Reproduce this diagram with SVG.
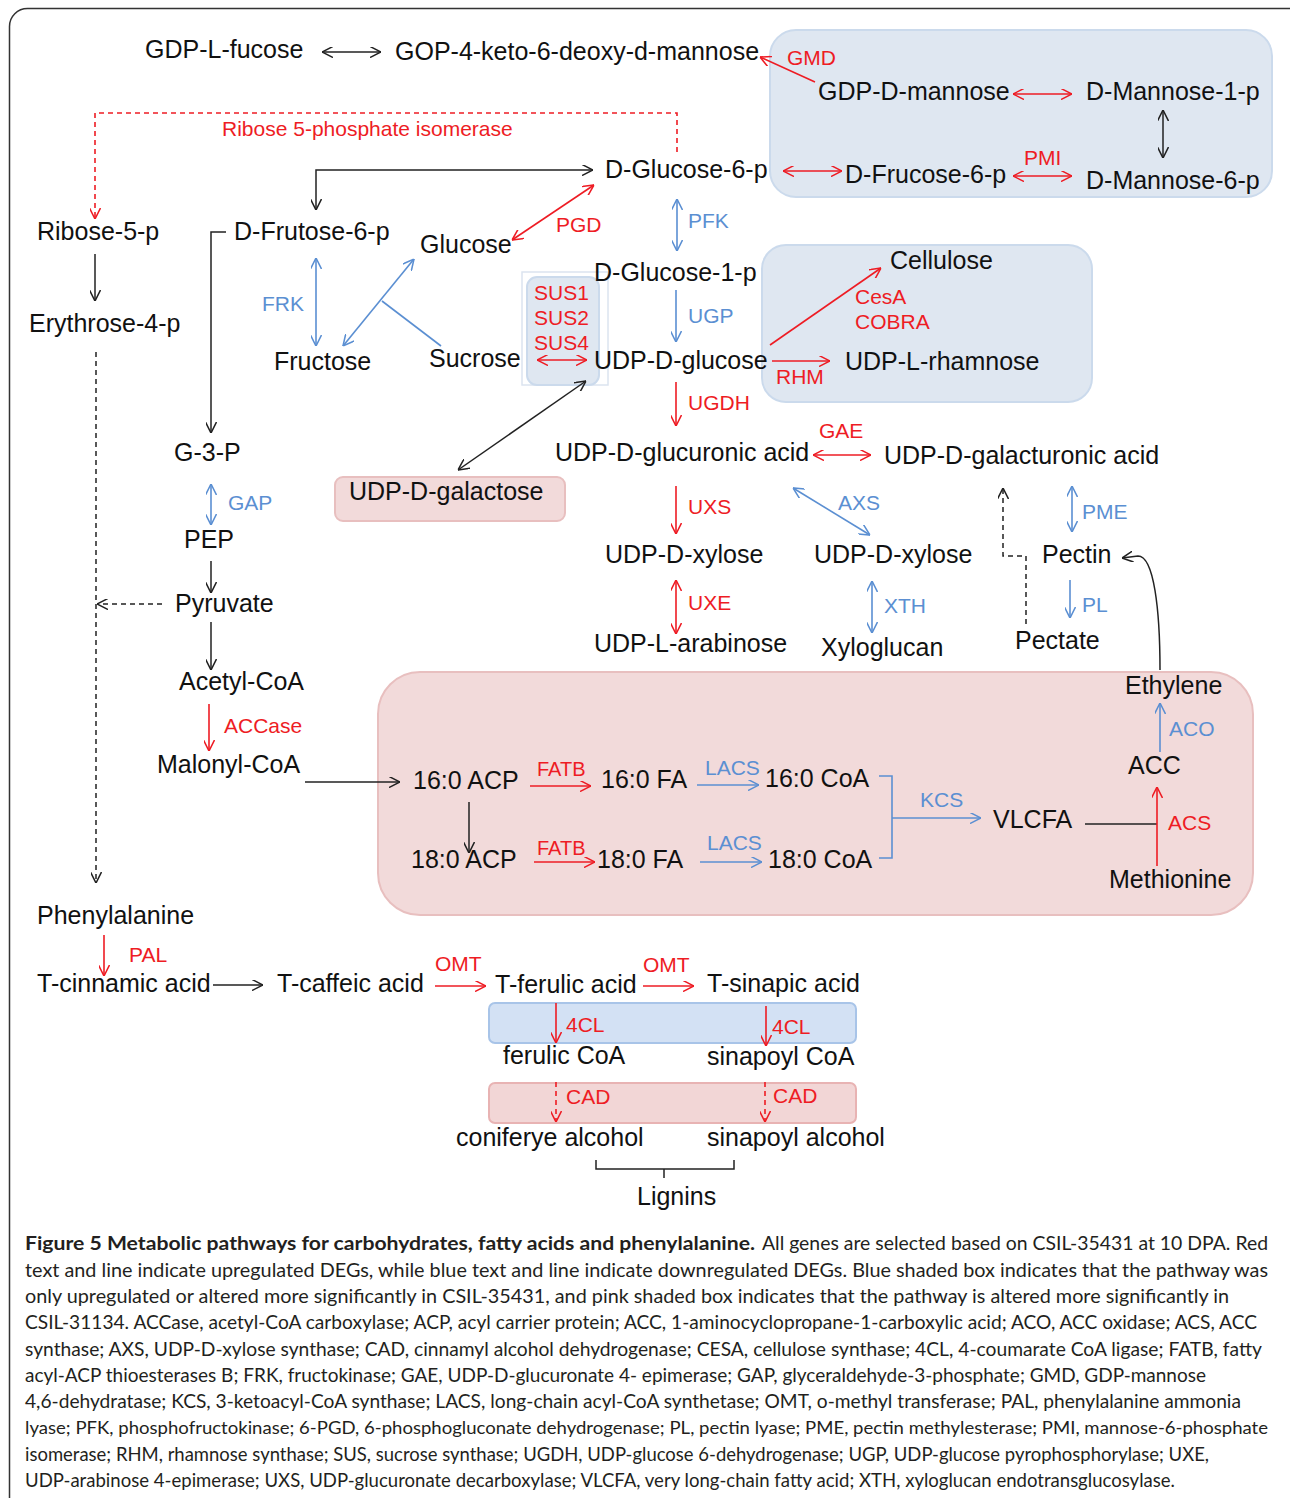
<svg xmlns="http://www.w3.org/2000/svg" width="1290" height="1498" viewBox="0 0 1290 1498">
<style>
.n{font-family:"Liberation Sans",Arial,sans-serif;font-size:25px;fill:#111}
.r{font-family:"Liberation Sans",Arial,sans-serif;font-size:21px;fill:#ee1c24}
.b{font-family:"Liberation Sans",Arial,sans-serif;font-size:21px;fill:#5b8fd2}
.lk{stroke:#222;stroke-width:1.5;fill:none}
.lr{stroke:#ee1c24;stroke-width:1.6;fill:none}
.lb{stroke:#5b8fd2;stroke-width:1.6;fill:none}
.dash{stroke-dasharray:5 4}
.ak{marker-end:url(#mk)}
.akk{marker-start:url(#mk);marker-end:url(#mk)}
.ar{marker-end:url(#mr)}
.arr{marker-start:url(#mr);marker-end:url(#mr)}
.ab{marker-end:url(#mb)}
.abb{marker-start:url(#mb);marker-end:url(#mb)}
.cap{font-family:Lato,"Open Sans",sans-serif;font-size:19px;fill:#231f20}
.capb{font-family:Lato,"Open Sans",sans-serif;font-size:19px;font-weight:bold;fill:#231f20}
.bbox{fill:#dfe7f1;stroke:#cbdaec;stroke-width:2}
.pbox{fill:#f2dada;stroke:#e8bfbf;stroke-width:2}
</style>
<defs>
<marker id="mk" viewBox="0 0 10 10" refX="10" refY="5" markerWidth="11" markerHeight="11" markerUnits="userSpaceOnUse" orient="auto-start-reverse"><path d="M0,0 L10,5 L0,10" fill="none" stroke="#222" stroke-width="1.4"/></marker>
<marker id="mr" viewBox="0 0 10 10" refX="10" refY="5" markerWidth="11" markerHeight="11" markerUnits="userSpaceOnUse" orient="auto-start-reverse"><path d="M0,0 L10,5 L0,10" fill="none" stroke="#ee1c24" stroke-width="1.4"/></marker>
<marker id="mb" viewBox="0 0 10 10" refX="10" refY="5" markerWidth="11" markerHeight="11" markerUnits="userSpaceOnUse" orient="auto-start-reverse"><path d="M0,0 L10,5 L0,10" fill="none" stroke="#5b8fd2" stroke-width="1.4"/></marker>
</defs>
<rect x="0" y="0" width="1290" height="1498" fill="#fff"/>
<rect x="9.5" y="8.5" width="1310" height="1520" rx="18" fill="none" stroke="#333" stroke-width="1.5"/>

<g id="shaded-boxes">
<rect class="bbox" x="770" y="30" width="502" height="167" rx="26"/>
<rect class="bbox" x="762" y="245" width="330" height="157" rx="24"/>
<rect x="522" y="272" width="86" height="113" fill="none" stroke="#dbe4ef" stroke-width="1.5"/>
<rect class="bbox" x="527" y="277" width="72" height="108" rx="10"/>
<rect class="pbox" x="335" y="477" width="230" height="44" rx="8"/>
<rect class="pbox" x="378" y="672" width="875" height="243" rx="42"/>
<rect x="489" y="1003" width="367" height="40" rx="6" fill="#d3e1f4" stroke="#a8c4e8" stroke-width="2"/>
<rect x="489" y="1083" width="367" height="40" rx="6" fill="#f2d6d6" stroke="#e8b3b3" stroke-width="2"/>
</g>

<g id="connectors">
<!-- black -->
<line class="lk akk" x1="322" y1="52" x2="381" y2="52"/>
<line class="lk akk" x1="1163" y1="110" x2="1163" y2="158"/>
<polyline class="lk akk" points="316,210 316,170 593,170"/>
<line class="lk ak" x1="95" y1="254" x2="95" y2="301"/>
<polyline class="lk ak" points="226,232 211,232 211,433"/>
<line class="lk ak dash" x1="96" y1="352" x2="96" y2="883"/>
<line class="lk ak dash" x1="162" y1="604" x2="97" y2="604"/>
<line class="lk ak" x1="211" y1="561" x2="211" y2="593"/>
<line class="lk ak" x1="211" y1="622" x2="211" y2="670"/>
<line class="lk ak" x1="305" y1="782" x2="400" y2="782"/>
<line class="lk ak" x1="469" y1="802" x2="469" y2="853"/>
<line class="lk akk" x1="458" y1="470" x2="586" y2="381"/>
<line class="lk" x1="1085" y1="824" x2="1157" y2="824"/>
<path class="lk ak" d="M1160,670 C1160,610 1154,556 1138,556 L1122,558"/>
<polyline class="lk ak dash" points="1026,624 1026,556 1003,556 1003,488"/>
<polyline class="lk" points="596,1160 596,1169 734,1169 734,1160"/>
<line class="lk" x1="664" y1="1169" x2="664" y2="1178"/>
<line class="lk ak" x1="213" y1="985" x2="263" y2="985"/>
<!-- red -->
<line class="lr ar" x1="815" y1="82" x2="760" y2="57"/>
<polyline class="lr ar dash" points="677,152 677,113 95,113 95,219"/>
<line class="lr arr" x1="783" y1="171" x2="842" y2="171"/>
<line class="lr arr" x1="1013" y1="94" x2="1072" y2="94"/>
<line class="lr arr" x1="1013" y1="176" x2="1072" y2="176"/>
<line class="lr arr" x1="512" y1="240" x2="594" y2="185"/>
<line class="lr arr" x1="537" y1="360" x2="587" y2="360"/>
<line class="lr ar" x1="770" y1="345" x2="881" y2="268"/>
<line class="lr ar" x1="772" y1="361" x2="830" y2="361"/>
<line class="lr ar" x1="676" y1="382" x2="676" y2="426"/>
<line class="lr arr" x1="813" y1="455" x2="871" y2="455"/>
<line class="lr ar" x1="676" y1="486" x2="676" y2="534"/>
<line class="lr arr" x1="676" y1="580" x2="676" y2="634"/>
<line class="lr ar" x1="209" y1="704" x2="209" y2="751"/>
<line class="lr ar" x1="530" y1="786" x2="591" y2="786"/>
<line class="lr ar" x1="534" y1="862" x2="595" y2="862"/>
<line class="lr ar" x1="1157" y1="866" x2="1157" y2="787"/>
<line class="lr ar" x1="104" y1="935" x2="104" y2="976"/>
<line class="lr ar" x1="435" y1="986" x2="486" y2="986"/>
<line class="lr ar" x1="643" y1="986" x2="694" y2="986"/>
<line class="lr ar" x1="556" y1="1003" x2="556" y2="1043"/>
<line class="lr ar" x1="766" y1="1006" x2="766" y2="1046"/>
<line class="lr ar dash" x1="556" y1="1082" x2="556" y2="1122"/>
<line class="lr ar dash" x1="765" y1="1082" x2="765" y2="1122"/>
<!-- blue -->
<line class="lb abb" x1="677" y1="199" x2="677" y2="251"/>
<line class="lb abb" x1="316" y1="258" x2="316" y2="346"/>
<line class="lb abb" x1="414" y1="259" x2="343" y2="346"/>
<line class="lb" x1="441" y1="346" x2="382" y2="301"/>
<line class="lb ab" x1="676" y1="290" x2="676" y2="342"/>
<line class="lb abb" x1="211" y1="484" x2="211" y2="525"/>
<line class="lb abb" x1="793" y1="488" x2="870" y2="535"/>
<line class="lb abb" x1="1072" y1="486" x2="1072" y2="532"/>
<line class="lb abb" x1="872" y1="581" x2="872" y2="633"/>
<line class="lb ab" x1="1070" y1="580" x2="1070" y2="618"/>
<line class="lb ab" x1="1160" y1="752" x2="1160" y2="703"/>
<line class="lb ab" x1="697" y1="785" x2="759" y2="785"/>
<line class="lb ab" x1="700" y1="862" x2="762" y2="862"/>
<polyline class="lb" points="879,776 892,776 892,858 879,858"/>
<line class="lb ab" x1="892" y1="818" x2="981" y2="818"/>
</g>

<g id="nodes">
<g id="n-gdp-l-fucose"><text class="n" x="145" y="58">GDP-L-fucose</text></g>
<g id="n-gop"><text class="n" x="395" y="60">GOP-4-keto-6-deoxy-d-mannose</text></g>
<g id="n-gdp-d-mannose"><text class="n" x="818" y="100">GDP-D-mannose</text></g>
<g id="n-mannose-1-p"><text class="n" x="1086" y="100">D-Mannose-1-p</text></g>
<g id="n-glucose-6-p"><text class="n" x="605" y="178">D-Glucose-6-p</text></g>
<g id="n-frucose-6-p"><text class="n" x="845" y="183">D-Frucose-6-p</text></g>
<g id="n-mannose-6-p"><text class="n" x="1086" y="189">D-Mannose-6-p</text></g>
<g id="n-ribose-5-p"><text class="n" x="37" y="240">Ribose-5-p</text></g>
<g id="n-frutose-6-p"><text class="n" x="234" y="240">D-Frutose-6-p</text></g>
<g id="n-glucose"><text class="n" x="420" y="253">Glucose</text></g>
<g id="n-glucose-1-p"><text class="n" x="594" y="281">D-Glucose-1-p</text></g>
<g id="n-cellulose"><text class="n" x="890" y="269">Cellulose</text></g>
<g id="n-erythrose"><text class="n" x="29" y="332">Erythrose-4-p</text></g>
<g id="n-fructose"><text class="n" x="274" y="370">Fructose</text></g>
<g id="n-sucrose"><text class="n" x="429" y="367">Sucrose</text></g>
<g id="n-udp-glucose"><text class="n" x="594" y="369">UDP-D-glucose</text></g>
<g id="n-udp-rhamnose"><text class="n" x="845" y="370">UDP-L-rhamnose</text></g>
<g id="n-g3p"><text class="n" x="174" y="461">G-3-P</text></g>
<g id="n-udp-glucuronic"><text class="n" x="555" y="461">UDP-D-glucuronic acid</text></g>
<g id="n-udp-galacturonic"><text class="n" x="884" y="464">UDP-D-galacturonic acid</text></g>
<g id="n-udp-galactose"><text class="n" x="349" y="500">UDP-D-galactose</text></g>
<g id="n-pep"><text class="n" x="184" y="548">PEP</text></g>
<g id="n-udp-xylose-1"><text class="n" x="605" y="563">UDP-D-xylose</text></g>
<g id="n-udp-xylose-2"><text class="n" x="814" y="563">UDP-D-xylose</text></g>
<g id="n-pectin"><text class="n" x="1042" y="563">Pectin</text></g>
<g id="n-pyruvate"><text class="n" x="175" y="612">Pyruvate</text></g>
<g id="n-udp-arabinose"><text class="n" x="594" y="652">UDP-L-arabinose</text></g>
<g id="n-xyloglucan"><text class="n" x="821" y="656">Xyloglucan</text></g>
<g id="n-pectate"><text class="n" x="1015" y="649">Pectate</text></g>
<g id="n-acetyl-coa"><text class="n" x="179" y="690">Acetyl-CoA</text></g>
<g id="n-ethylene"><text class="n" x="1125" y="694">Ethylene</text></g>
<g id="n-malonyl-coa"><text class="n" x="157" y="773">Malonyl-CoA</text></g>
<g id="n-acc"><text class="n" x="1128" y="774">ACC</text></g>
<g id="n-16acp"><text class="n" x="413" y="789">16:0 ACP</text></g>
<g id="n-16fa"><text class="n" x="601" y="788">16:0 FA</text></g>
<g id="n-16coa"><text class="n" x="765" y="787">16:0 CoA</text></g>
<g id="n-vlcfa"><text class="n" x="993" y="828">VLCFA</text></g>
<g id="n-18acp"><text class="n" x="411" y="868">18:0 ACP</text></g>
<g id="n-18fa"><text class="n" x="597" y="868">18:0 FA</text></g>
<g id="n-18coa"><text class="n" x="768" y="868">18:0 CoA</text></g>
<g id="n-methionine"><text class="n" x="1109" y="888">Methionine</text></g>
<g id="n-phenylalanine"><text class="n" x="37" y="924">Phenylalanine</text></g>
<g id="n-cinnamic"><text class="n" x="37" y="992">T-cinnamic acid</text></g>
<g id="n-caffeic"><text class="n" x="277" y="992">T-caffeic acid</text></g>
<g id="n-ferulic"><text class="n" x="495" y="993">T-ferulic acid</text></g>
<g id="n-sinapic"><text class="n" x="707" y="992">T-sinapic acid</text></g>
<g id="n-ferulic-coa"><text class="n" x="503" y="1064">ferulic CoA</text></g>
<g id="n-sinapoyl-coa"><text class="n" x="707" y="1065">sinapoyl CoA</text></g>
<g id="n-coniferye"><text class="n" x="456" y="1146">coniferye alcohol</text></g>
<g id="n-sinapoyl-alcohol"><text class="n" x="707" y="1146">sinapoyl alcohol</text></g>
<g id="n-lignins"><text class="n" x="637" y="1205">Lignins</text></g>
</g>

<g id="enzyme-labels">
<text class="r" x="787" y="65">GMD</text>
<text class="r" x="222" y="136">Ribose 5-phosphate isomerase</text>
<text class="r" x="1024" y="165">PMI</text>
<text class="r" x="556" y="232">PGD</text>
<text class="r" x="534" y="300">SUS1</text>
<text class="r" x="534" y="325">SUS2</text>
<text class="r" x="534" y="350">SUS4</text>
<text class="r" x="855" y="304">CesA</text>
<text class="r" x="855" y="329">COBRA</text>
<text class="r" x="776" y="384">RHM</text>
<text class="r" x="688" y="410">UGDH</text>
<text class="r" x="819" y="438">GAE</text>
<text class="r" x="688" y="514">UXS</text>
<text class="r" x="688" y="610">UXE</text>
<text class="r" x="224" y="733">ACCase</text>
<text class="r" x="537" y="776" style="font-size:20px">FATB</text>
<text class="r" x="537" y="855" style="font-size:20px">FATB</text>
<text class="r" x="1168" y="830">ACS</text>
<text class="r" x="129" y="962">PAL</text>
<text class="r" x="435" y="971">OMT</text>
<text class="r" x="643" y="972">OMT</text>
<text class="r" x="566" y="1032">4CL</text>
<text class="r" x="772" y="1034">4CL</text>
<text class="r" x="566" y="1104">CAD</text>
<text class="r" x="773" y="1103">CAD</text>
<text class="b" x="688" y="228">PFK</text>
<text class="b" x="262" y="311">FRK</text>
<text class="b" x="688" y="323">UGP</text>
<text class="b" x="228" y="510">GAP</text>
<text class="b" x="838" y="510">AXS</text>
<text class="b" x="1082" y="519">PME</text>
<text class="b" x="884" y="613">XTH</text>
<text class="b" x="1082" y="612">PL</text>
<text class="b" x="1169" y="736">ACO</text>
<text class="b" x="705" y="775">LACS</text>
<text class="b" x="707" y="850">LACS</text>
<text class="b" x="920" y="807">KCS</text>
</g>

<g id="caption">
<text class="capb" x="25" y="1250" textLength="730" lengthAdjust="spacingAndGlyphs">Figure 5 Metabolic pathways for carbohydrates, fatty acids and phenylalanine.</text>
<text class="cap" x="762" y="1250" textLength="506" lengthAdjust="spacingAndGlyphs">All genes are selected based on CSIL-35431 at 10 DPA. Red</text>
<text class="cap" x="25" y="1277" textLength="1243" lengthAdjust="spacingAndGlyphs">text and line indicate upregulated DEGs, while blue text and line indicate downregulated DEGs. Blue shaded box indicates that the pathway was</text>
<text class="cap" x="25" y="1303" textLength="1204" lengthAdjust="spacingAndGlyphs">only upregulated or altered more significantly in CSIL-35431, and pink shaded box indicates that the pathway is altered more significantly in</text>
<text class="cap" x="25" y="1329" textLength="1232" lengthAdjust="spacingAndGlyphs">CSIL-31134. ACCase, acetyl-CoA carboxylase; ACP, acyl carrier protein; ACC, 1-aminocyclopropane-1-carboxylic acid; ACO, ACC oxidase; ACS, ACC</text>
<text class="cap" x="25" y="1356" textLength="1237" lengthAdjust="spacingAndGlyphs">synthase; AXS, UDP-D-xylose synthase; CAD, cinnamyl alcohol dehydrogenase; CESA, cellulose synthase; 4CL, 4-coumarate CoA ligase; FATB, fatty</text>
<text class="cap" x="25" y="1382" textLength="1181" lengthAdjust="spacingAndGlyphs">acyl-ACP thioesterases B; FRK, fructokinase; GAE, UDP-D-glucuronate 4- epimerase; GAP, glyceraldehyde-3-phosphate; GMD, GDP-mannose</text>
<text class="cap" x="25" y="1408" textLength="1216" lengthAdjust="spacingAndGlyphs">4,6-dehydratase; KCS, 3-ketoacyl-CoA synthase; LACS, long-chain acyl-CoA synthetase; OMT, o-methyl transferase; PAL, phenylalanine ammonia</text>
<text class="cap" x="25" y="1434" textLength="1243" lengthAdjust="spacingAndGlyphs" style="font-size:18px">lyase; PFK, phosphofructokinase; 6-PGD, 6-phosphogluconate dehydrogenase; PL, pectin lyase; PME, pectin methylesterase; PMI, mannose-6-phosphate</text>
<text class="cap" x="25" y="1461" textLength="1184" lengthAdjust="spacingAndGlyphs">isomerase; RHM, rhamnose synthase; SUS, sucrose synthase; UGDH, UDP-glucose 6-dehydrogenase; UGP, UDP-glucose pyrophosphorylase; UXE,</text>
<text class="cap" x="25" y="1487" textLength="1150" lengthAdjust="spacingAndGlyphs">UDP-arabinose 4-epimerase; UXS, UDP-glucuronate decarboxylase; VLCFA, very long-chain fatty acid; XTH, xyloglucan endotransglucosylase.</text>
</g>
</svg>
